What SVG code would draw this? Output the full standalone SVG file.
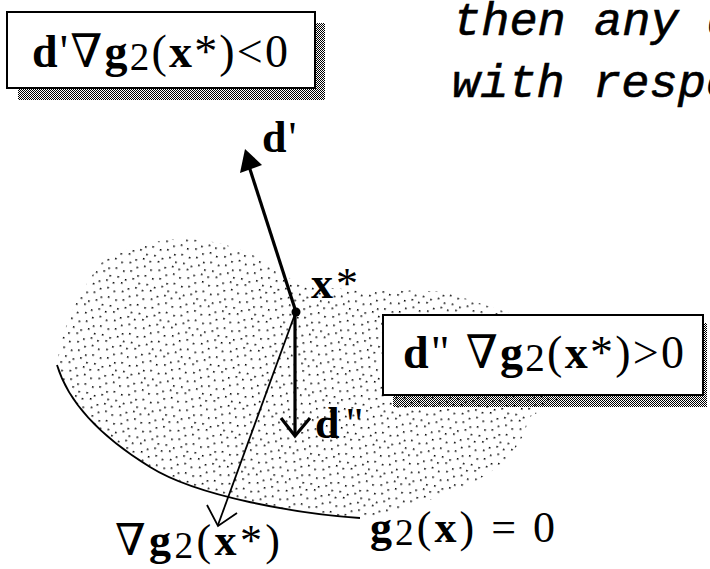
<svg xmlns="http://www.w3.org/2000/svg" width="710" height="569" viewBox="0 0 710 569">
<style>
.serif{font-family:"Liberation Serif","DejaVu Serif",serif;fill:#000}
.b{font-weight:bold}
.sub{font-size:0.85em}
.box{fill:#fff;stroke:#000;stroke-width:2}
.shadow{fill:url(#dither)}
.italic{font-family:"Liberation Mono","DejaVu Sans Mono",monospace;font-style:italic;font-size:47px;fill:#000;stroke:#000;stroke-width:0.6}
.thick{stroke:#000;stroke-width:3.2;fill:none;stroke-linejoin:miter}
.thin{stroke:#000;stroke-width:1.8;fill:none}
</style>
<defs>
<pattern id="dither" width="2" height="2" patternUnits="userSpaceOnUse">
<rect x="0" y="0" width="1" height="1" fill="#000"/>
<rect x="1" y="1" width="1" height="1" fill="#000"/>
</pattern>
<pattern id="stipple" width="30" height="30" patternUnits="userSpaceOnUse" patternTransform="rotate(15)">
<g fill="#000">
<rect x="2" y="3" width="1.6" height="1.6"/><rect x="10" y="1" width="1.6" height="1.6"/><rect x="18" y="5" width="1.6" height="1.6"/><rect x="25" y="2" width="1.6" height="1.6"/>
<rect x="5" y="11" width="1.6" height="1.6"/><rect x="13" y="9" width="1.6" height="1.6"/><rect x="21" y="12" width="1.6" height="1.6"/><rect x="28" y="9" width="1.6" height="1.6"/>
<rect x="1" y="18" width="1.6" height="1.6"/><rect x="9" y="19" width="1.6" height="1.6"/><rect x="16" y="17" width="1.6" height="1.6"/><rect x="24" y="20" width="1.6" height="1.6"/>
<rect x="5" y="26" width="1.6" height="1.6"/><rect x="13" y="27" width="1.6" height="1.6"/><rect x="20" y="24" width="1.6" height="1.6"/><rect x="27" y="27" width="1.6" height="1.6"/>
</g>
</pattern>
</defs>
<rect width="710" height="569" fill="#fff"/>

<g id="region">
<path d="M57,365 C62,325 80,290 102,262 C130,244 170,236 200,240 C235,244 265,258 292,280 C330,294 400,288 446,292 L560,330 L560,400 L528,418 C525,450 490,478 450,493 C415,506 385,514 360,518 C300,514 200,495 150,467 C90,430 66,395 57,365 Z" fill="url(#stipple)"/>
</g>

<g id="constraint-curve">
<path class="thin" d="M57,365 C66,395 90,430 150,467 C198,497 300,514 360,518"/>
</g>

<g id="connectors">
<line class="thick" x1="296" y1="312" x2="247" y2="160"/>
<polygon points="245,149 240,173 262,165" fill="#000"/>
<line class="thick" x1="295" y1="312" x2="295" y2="434"/>
<polyline class="thick" points="281,418 295,436 310,418"/>
<line class="thin" x1="295" y1="314" x2="218" y2="525"/>
<polyline class="thin" points="207,505 218,526 237,513"/>
</g>

<g id="xstar-point">
<circle cx="296" cy="312" r="4.5" fill="#000"/>
</g>

<g id="box1">
<rect class="shadow" x="18" y="23" width="307" height="77"/>
<rect class="box" x="7" y="12" width="308" height="76"/>
<text class="serif" x="32" y="67" font-size="46" textLength="256" lengthAdjust="spacing"><tspan class="b">d</tspan>'∇<tspan class="b">g</tspan><tspan class="sub" dy="3">2</tspan><tspan dy="-3">(</tspan><tspan class="b">x</tspan>*)&lt;0</text>
</g>

<g id="box2">
<rect class="shadow" x="393" y="323" width="314" height="84"/>
<rect class="box" x="383" y="315" width="320" height="80"/>
<text class="serif" x="403" y="368" font-size="46" textLength="281" lengthAdjust="spacing"><tspan class="b">d</tspan>" ∇<tspan class="b">g</tspan><tspan class="sub" dy="3">2</tspan><tspan dy="-3">(</tspan><tspan class="b">x</tspan>*)&gt;0</text>
</g>

<g id="label-dprime">
<text class="serif" x="262" y="152" font-size="44"><tspan class="b">d</tspan><tspan dx="2">'</tspan></text>
</g>
<g id="label-xstar">
<text class="serif" x="311" y="298" font-size="44"><tspan class="b">x</tspan><tspan dx="3">*</tspan></text>
</g>
<g id="label-ddouble">
<text class="serif" x="315" y="438" font-size="44"><tspan class="b">d</tspan><tspan dx="6">"</tspan></text>
</g>
<g id="label-grad">
<text class="serif" x="115" y="555" font-size="44" textLength="165" lengthAdjust="spacing">∇<tspan class="b">g</tspan><tspan class="sub" dy="3">2</tspan><tspan dy="-3">(</tspan><tspan class="b">x</tspan>*)</text>
</g>
<g id="label-curve">
<text class="serif" x="370" y="542" font-size="44" textLength="185" lengthAdjust="spacing"><tspan class="b">g</tspan><tspan class="sub" dy="3">2</tspan><tspan dy="-3">(</tspan><tspan class="b">x</tspan>) = 0</text>
</g>

<g id="caption">
<text class="italic" x="453" y="35">then any d</text>
<text class="italic" x="452" y="97">with respe</text>
</g>
</svg>
